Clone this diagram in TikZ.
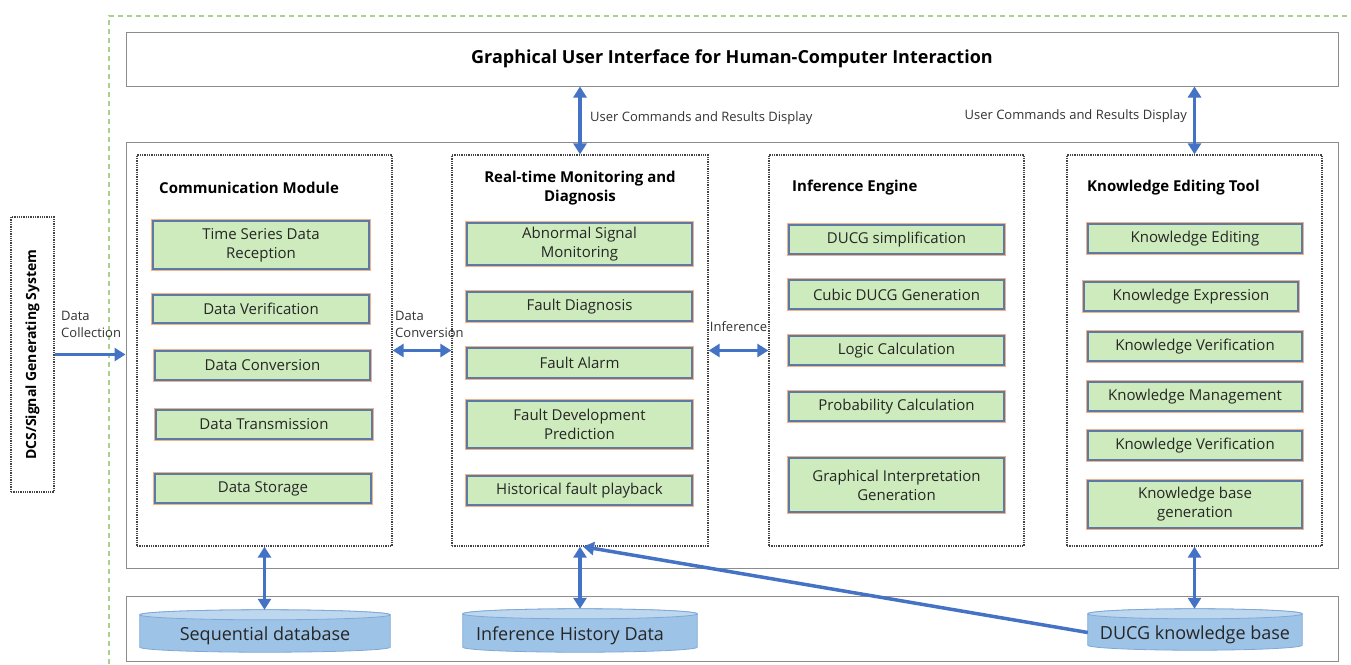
\documentclass[tikz,border=0pt]{standalone}
\usepackage{fontspec}
\setmainfont{Open Sans}
\usetikzlibrary{arrows.meta,calc,backgrounds}

\definecolor{framegray}{HTML}{8C8C8C}
\definecolor{dashgreen}{HTML}{A9D18E}
\definecolor{boxgreen}{HTML}{CDEBBC}
\definecolor{boxedge}{HTML}{5B7BA6}
\definecolor{boxglow}{HTML}{F4B183}
\definecolor{linkblue}{HTML}{4472C4}
\definecolor{dbbody}{HTML}{9DC3E6}
\definecolor{dbtop}{HTML}{BDD7EE}
\definecolor{dbline}{HTML}{7FA8D8}
\definecolor{dotgray}{HTML}{444444}

\tikzset{
  panel/.style={rectangle, draw=framegray, line width=1pt, inner sep=0pt},
  module/.style={rectangle, draw=dotgray, densely dotted, line width=1.3pt, inner sep=0pt},
  gbox/.style={rectangle, fill=boxgreen, draw=boxedge, line width=1.2pt,
    preaction={draw=boxglow, line width=3.6pt},
    align=center, inner sep=0pt, text=black!85,
    font=\fontsize{15}{19}\selectfont},
  modtitle/.style={font=\bfseries\fontsize{15}{19}\selectfont, inner sep=0pt, text=black},
  linklabel/.style={font=\fontsize{13}{17}\selectfont, inner sep=0pt, text=black!80, align=left},
  dbnode/.style={rectangle, inner sep=0pt},
  dbtext/.style={inner sep=0pt, yshift=-5pt, font=\fontsize{18}{22}\selectfont, text=black!85},
  biarrow/.style={draw=linkblue, line width=3.5pt,
    {Triangle[width=13pt,length=11pt]}-{Triangle[width=13pt,length=11pt]}},
  onearrow/.style={draw=linkblue, line width=3.5pt, -{Triangle[width=13pt,length=11pt]}},
}

% database cylinder drawn around a named rectangle node
\newcommand\dbcylinder[1]{%
  \path let \p1=(#1.north west), \p2=(#1.south east), \n1={(\x2-\x1)/2} in
    [fill=dbbody, draw=dbline, line width=0.8pt]
    (\x1,\y1-5pt) -- (\x1,\y2+5pt)
    arc[start angle=180, end angle=360, x radius=\n1, y radius=5pt]
    -- (\x2,\y1-5pt)
    arc[start angle=0, end angle=180, x radius=\n1, y radius=5pt] -- cycle;
  \path let \p1=(#1.north west), \p2=(#1.south east), \n1={(\x2-\x1)/2} in
    [fill=dbtop, draw=dbline, line width=0.8pt]
    (\x1+\n1,\y1-5pt) ellipse [x radius=\n1, y radius=5pt];%
}

\begin{document}
\begin{tikzpicture}[x=1pt, y=-1pt]
\useasboundingbox (0,0) rectangle (1351,664);

% system boundary
\draw[dashgreen, line width=1.4pt, dash pattern=on 5pt off 4pt] (109,664) -- (109,16) -- (1351,16);

% panels
\node[panel, minimum width=1212pt, minimum height=54pt,
  font=\bfseries\fontsize{18}{22}\selectfont] (gui) at (732,59)
  {Graphical User Interface for Human-Computer Interaction};
\node[panel, minimum width=1212pt, minimum height=426pt] (core) at (732,355) {};
\node[panel, minimum width=1212pt, minimum height=65pt] (store) at (732,628.5) {};

% external source
\node[module, minimum width=43pt, minimum height=275pt] (dcs) at (32.5,354.5) {};
\node[rotate=90, font=\bfseries\fontsize{14}{17}\selectfont, inner sep=0pt] (dcslabel) at (dcs.center)
  {DCS/Signal Generating System};

% modules
\node[module, minimum width=255pt, minimum height=391pt] (comm) at (264.5,350.5) {};
\node[module, minimum width=256pt, minimum height=391pt] (rt)   at (580,350.5) {};
\node[module, minimum width=255pt, minimum height=391pt] (inf)  at (896.5,350.5) {};
\node[module, minimum width=255pt, minimum height=391pt] (kt)   at (1194.5,350.5) {};

% module titles
\node[modtitle, anchor=west] (commtitle) at (159,188) {Communication Module};
\node[modtitle, align=center] (rttitle) at (580,188.5) {Real-time Monitoring and\\Diagnosis};
\node[modtitle, anchor=west] (inftitle) at (792,188) {Inference Engine};
\node[modtitle, anchor=west] (kttitle) at (1087,188) {Knowledge Editing Tool};

% communication module
\node[gbox, minimum width=216pt, minimum height=48pt] (c1) at (261,245) {Time Series Data\\Reception};
\node[gbox, minimum width=216pt, minimum height=28pt] (c2) at (261,309) {Data Verification};
\node[gbox, minimum width=215pt, minimum height=29pt] (c3) at (262.5,365.5) {Data Conversion};
\node[gbox, minimum width=216pt, minimum height=29pt] (c4) at (264,424.5) {Data Transmission};
\node[gbox, minimum width=216pt, minimum height=29pt] (c5) at (263,488.5) {Data Storage};

% real-time monitoring and diagnosis
\node[gbox, minimum width=225pt, minimum height=42pt] (r1) at (579.5,244) {Abnormal Signal\\Monitoring};
\node[gbox, minimum width=225pt, minimum height=29pt] (r2) at (579.5,306.5) {Fault Diagnosis};
\node[gbox, minimum width=225pt, minimum height=30pt] (r3) at (579.5,363) {Fault Alarm};
\node[gbox, minimum width=225pt, minimum height=47pt] (r4) at (579.5,424.5) {Fault Development\\Prediction};
\node[gbox, minimum width=225pt, minimum height=29pt] (r5) at (579.5,490.5) {Historical fault playback};

% inference engine
\node[gbox, minimum width=215pt, minimum height=29pt] (i1) at (896.5,239.5) {DUCG simplification};
\node[gbox, minimum width=215pt, minimum height=29pt] (i2) at (896.5,294.5) {Cubic DUCG Generation};
\node[gbox, minimum width=215pt, minimum height=29pt] (i3) at (896.5,350.5) {Logic Calculation};
\node[gbox, minimum width=215pt, minimum height=29pt] (i4) at (896.5,406.5) {Probability Calculation};
\node[gbox, minimum width=215pt, minimum height=54pt] (i5) at (896.5,485) {Graphical Interpretation\\Generation};

% knowledge editing tool
\node[gbox, minimum width=214pt, minimum height=29pt] (k1) at (1195,238.5) {Knowledge Editing};
\node[gbox, minimum width=214pt, minimum height=29pt] (k2) at (1191,296.5) {Knowledge Expression};
\node[gbox, minimum width=214pt, minimum height=29pt] (k3) at (1195,346.5) {Knowledge Verification};
\node[gbox, minimum width=214pt, minimum height=29pt] (k4) at (1195,396.5) {Knowledge Management};
\node[gbox, minimum width=214pt, minimum height=29pt] (k5) at (1195,445.5) {Knowledge Verification};
\node[gbox, minimum width=214pt, minimum height=47pt] (k6) at (1195,504.5) {Knowledge base\\generation};

% databases
\node[dbnode, minimum width=250pt, minimum height=42pt,
  label={[dbtext]center:Sequential database}] (db1) at (265,631) {};
\node[dbnode, minimum width=234pt, minimum height=43pt,
  label={[dbtext, xshift=-10pt]center:Inference History Data}] (db2) at (580,630.5) {};
\node[dbnode, minimum width=214pt, minimum height=41pt,
  label={[dbtext]center:DUCG knowledge base}] (db3) at (1195,629.5) {};
\begin{scope}[on background layer]
  \dbcylinder{db1}
  \dbcylinder{db2}
  \dbcylinder{db3}
\end{scope}

% connectors
\draw[onearrow] (dcs.east) -- (dcs.east -| core.west);
\node[linklabel, anchor=west] (collectlabel) at (61,324.5) {Data\\Collection};

\draw[biarrow] (comm.east) -- (rt.west);
\node[linklabel, anchor=west] (convlabel) at (395,324.5) {Data\\Conversion};

\draw[biarrow] (rt.east) -- (inf.west);
\node[linklabel] (inflabel) at (738.5,326.5) {Inference};

\draw[biarrow] (gui.south -| rt.north) -- (rt.north);
\node[linklabel, anchor=west] (cmdlabel1) at (590,118) {User Commands and Results Display};

\draw[biarrow] (gui.south -| kt.north) -- (kt.north);
\node[linklabel, anchor=east] (cmdlabel2) at (1187,116) {User Commands and Results Display};

\draw[biarrow] (comm.south) -- (comm.south |- db1.north);
\draw[biarrow] (rt.south) -- (rt.south |- db2.north);
\draw[biarrow] (kt.south) -- (kt.south |- db3.north);

\draw[onearrow] ([yshift=-3pt]db3.west) -- ([xshift=3pt]rt.south);
\end{tikzpicture}
\end{document}
